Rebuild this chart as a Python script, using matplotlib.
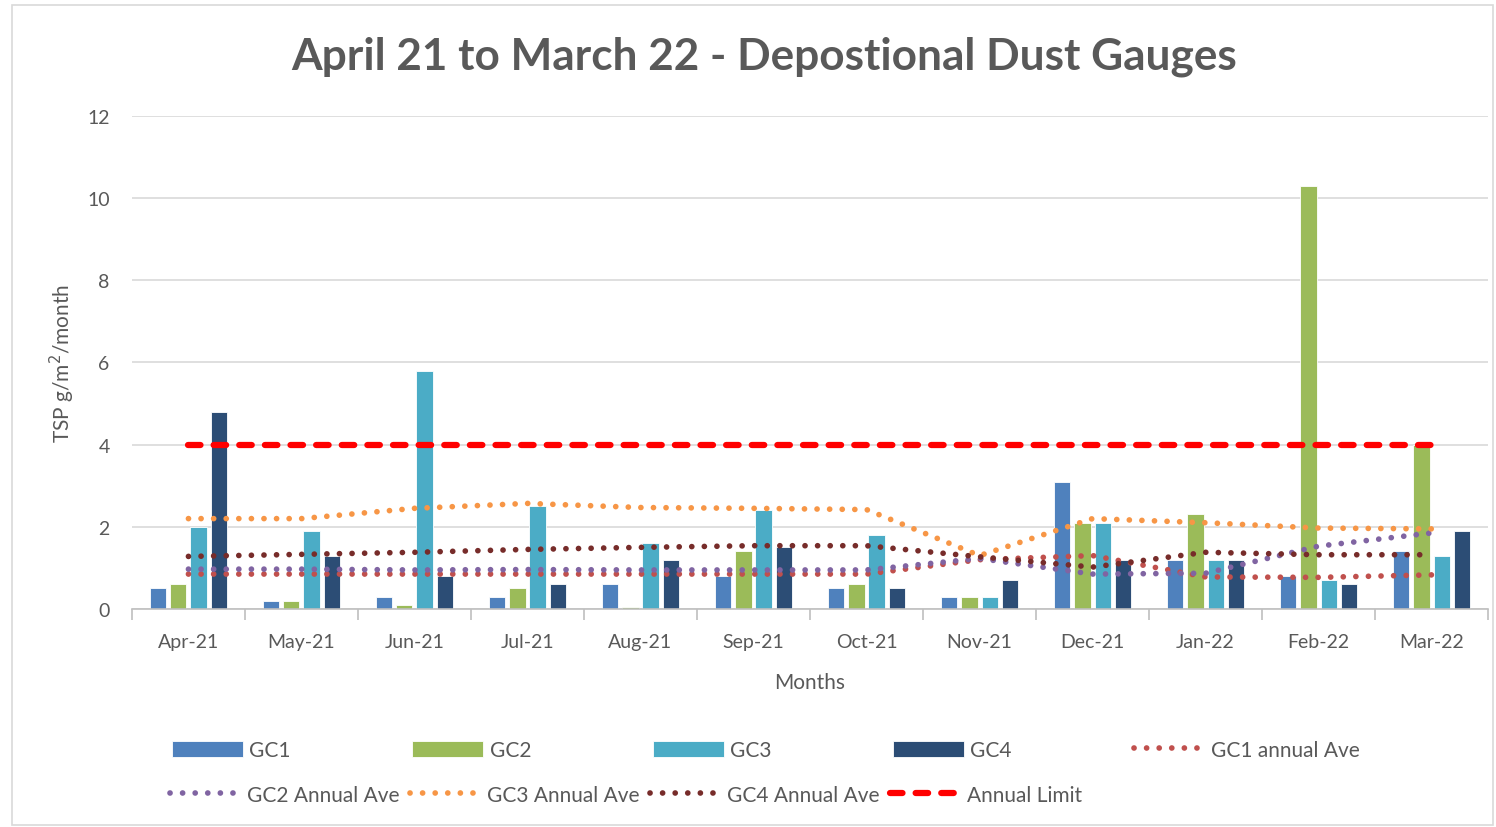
import numpy as np
import matplotlib.pyplot as plt
from matplotlib.patches import Rectangle

plt.rcParams['font.family'] = ['Lato', 'DejaVu Sans']

months = ['Apr-21', 'May-21', 'Jun-21', 'Jul-21', 'Aug-21', 'Sep-21',
          'Oct-21', 'Nov-21', 'Dec-21', 'Jan-22', 'Feb-22', 'Mar-22']

# monthly gauge readings (TSP g/m2/month)
gc1 = [0.5, 0.2, 0.3, 0.3, 0.6, 0.8, 0.5, 0.3, 3.1, 1.2, 0.8, 1.4]
gc2 = [0.6, 0.2, 0.1, 0.5, 0.05, 1.4, 0.6, 0.3, 2.1, 2.3, 10.3, 4.0]
gc3 = [2.0, 1.9, 5.8, 2.5, 1.6, 2.4, 1.8, 0.3, 2.1, 1.2, 0.7, 1.3]
gc4 = [4.8, 1.3, 0.8, 0.6, 1.2, 1.5, 0.5, 0.7, 1.2, 1.2, 0.6, 1.9]

# annual averages
gc1_ave = [0.85, 0.85, 0.85, 0.85, 0.85, 0.85, 0.85, 1.2, 1.3, 0.78, 0.77, 0.83]
gc2_ave = [0.97, 0.97, 0.95, 0.96, 0.95, 0.95, 0.95, 1.23, 0.85, 0.87, 1.53, 1.85]
gc3_ave = [2.2, 2.2, 2.45, 2.57, 2.47, 2.45, 2.42, 1.3, 2.2, 2.1, 1.97, 1.95]
gc4_ave = [1.28, 1.33, 1.38, 1.45, 1.5, 1.54, 1.54, 1.27, 1.02, 1.38, 1.32, 1.32]
limit = [4, 4, 4, 4, 4, 4, 4, 4, 4, 4, 4, 4]

fig = plt.figure(figsize=(14.96, 8.28), dpi=100)
ax = fig.add_axes([0.0882, 0.2633, 0.9065, 0.5954])

x = np.arange(len(months))
w = 0.145
step = 0.18
bar_cols = ['#4F81BD', '#9BBB59', '#4BACC6', '#2C4D75']
bars = []
for i, (vals, col, lab) in enumerate(zip([gc1, gc2, gc3, gc4], bar_cols,
                                        ['GC1', 'GC2', 'GC3', 'GC4'])):
    b = ax.bar(x + (i - 1.5) * step, vals, width=w, color=col,
               edgecolor='white', linewidth=0.6, label=lab, zorder=2)
    bars.append(b)

dot = (0, (0.01, 2.2))
lines = []
for vals, col, lab in [(gc1_ave, '#C0504D', 'GC1 annual Ave'),
                       (gc2_ave, '#8064A2', 'GC2 Annual Ave'),
                       (gc3_ave, '#F79646', 'GC3 Annual Ave'),
                       (gc4_ave, '#772C2A', 'GC4 Annual Ave')]:
    l, = ax.plot(x, vals, color=col, lw=4.1, linestyle=dot,
                 dash_capstyle='round', label=lab, zorder=3)
    lines.append(l)
l, = ax.plot(x, limit, color='#FF0000', lw=4.5, linestyle=(0, (2, 2.1)),
             dash_capstyle='round', label='Annual Limit', zorder=4)
lines.append(l)

ax.set_xlim(-0.5, 11.5)
ax.set_ylim(0, 12)
ax.set_yticks(range(0, 13, 2))
ax.grid(axis='y', color='#D9D9D9', lw=1.2, zorder=0)
ax.set_axisbelow(True)
for s in ['top', 'right', 'left']:
    ax.spines[s].set_visible(False)
ax.spines['bottom'].set_color('#BFBFBF')
ax.spines['bottom'].set_linewidth(1.2)

ax.set_xticks(x)
ax.set_xticklabels(months)
ax.set_xticks(np.arange(-0.5, 12, 1), minor=True)
ax.tick_params(axis='x', which='major', length=0, pad=17,
               labelsize=14, labelcolor='#595959')
ax.tick_params(axis='x', which='minor', length=8, color='#BFBFBF', width=1.2)
ax.tick_params(axis='y', length=0, pad=16, labelsize=14, labelcolor='#595959')

ax.set_xlabel('Months', fontsize=15, color='#595959', labelpad=16)
ax.set_ylabel('TSP g/m$^2$/month', fontsize=15, color='#595959', labelpad=7)

fig.text(0.5107, 0.931, 'April 21 to March 22 - Depostional Dust Gauges',
         ha='center', va='center', fontsize=31.8, fontweight='bold',
         color='#595959')

# legend: two rows, evenly spaced like the Excel legend
leg_kw = dict(loc='center left', frameon=False, fontsize=15,
              handlelength=3.4, handleheight=0.8, handletextpad=0.3,
              borderpad=0, borderaxespad=0, labelcolor='#595959')
row1 = bars + [lines[0]]
leg1 = fig.legend(row1, [h.get_label() for h in row1], ncol=5,
                  bbox_to_anchor=(0.115, 0.093), columnspacing=5.85, **leg_kw)
row2 = lines[1:]
leg2 = fig.legend(row2, [h.get_label() for h in row2], ncol=4,
                  bbox_to_anchor=(0.1136, 0.0386), columnspacing=0.5, **leg_kw)

fig.patches.append(Rectangle((0.008, 0.003), 0.99, 0.99,
                             transform=fig.transFigure, fill=False,
                             edgecolor='#D9D9D9', lw=1.2))

fig.savefig('out.png', dpi=100)
